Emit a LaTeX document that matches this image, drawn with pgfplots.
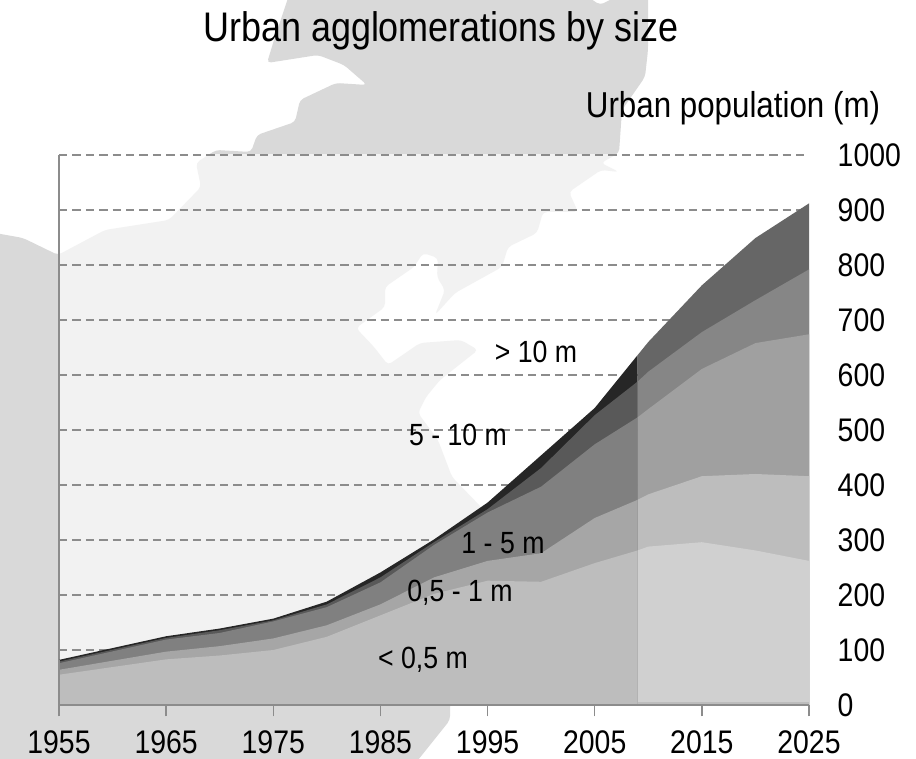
\documentclass[border=0pt]{standalone}
\usepackage{fontspec}
\setmainfont[FakeStretch=0.87]{Liberation Sans}
\usepackage{pgfplots}
\pgfplotsset{compat=1.18}
\definecolor{land}{HTML}{D9D9D9}
\definecolor{gridc}{HTML}{8C8C8C}
\definecolor{La}{HTML}{BDBDBD}\definecolor{Lb}{HTML}{A6A6A6}\definecolor{Lc}{HTML}{808080}\definecolor{Ld}{HTML}{595959}\definecolor{Le}{HTML}{262626}
\definecolor{Ra}{HTML}{D0D0D0}\definecolor{Rb}{HTML}{BDBDBD}\definecolor{Rc}{HTML}{A0A0A0}\definecolor{Rd}{HTML}{868686}\definecolor{Re}{HTML}{666666}
\newcommand{\tfont}{\fontsize{24.5}{24.5}\selectfont}
\begin{document}
\begin{tikzpicture}
\path[use as bounding box] (0,0) rectangle (687pt,569.25pt);
\begin{scope}[x=0.75pt,y=-0.75pt,yshift=569.25pt]
\fill[white] (0,0) rectangle (916,759);
% background map
\clip (0,0) rectangle (916,759);
\fill[land,rounded corners=3pt] (289,-5) -- (585,-5) -- (600,5) -- (620,-5) -- (648,-5) -- (648,50) -- (645,77) -- (622,110) -- (619,153) -- (601,163) -- (619,172) -- (601,170) -- (569,192) -- (578,212) -- (543,212) -- (537,233) -- (508,247) -- (502,267) -- (455,293) -- (435,315) -- (445,290) -- (437,277) -- (438,258) -- (423,253) -- (414,267) -- (385,287) -- (385,307) -- (356,328) -- (374,347) -- (388,365) -- (420,343) -- (461,340) -- (478,350) -- (440,380) -- (426,397) -- (418,413) -- (438,440) -- (452,477) -- (482,508) -- (482,600) -- (450,705) -- (450,720) -- (414,765) -- (-5,765) -- (-5,233) -- (23,238) -- (58,255) -- (105,230) -- (169,220) -- (201,187) -- (196,163) -- (216,150) -- (251,152) -- (257,135) -- (295,122) -- (300,100) -- (336,83) -- (367,85) -- (344,65) -- (318,55) -- (267,63) -- (274,40) -- cycle;
\fill[white,opacity=0.66] (59,154) rectangle (809,705);
\end{scope}
\begin{axis}[at={(44.25pt,40.5pt)},anchor=south west,scale only axis,
  width=562.5pt,height=412.5pt,
  xmin=1955,xmax=2025,ymin=0,ymax=1000,
  axis x line*=bottom,axis y line*=left,
  xtick={1955,1965,...,2025},ytick={0,100,...,1000},
  /pgf/number format/assume math mode=true,
  /pgf/number format/1000 sep={},
  tick label style={font=\tfont},
  xticklabel style={yshift=-7.5pt},
  yticklabel style={anchor=west,xshift=589pt},
  tick align=outside,
  x tick style={gridc,line width=1pt},
  y tick style={draw=none},
  major tick length=8.5pt,
  ymajorgrids,
  y grid style={gridc,dash pattern=on 6.3pt off 3.75pt,line width=1.3pt},
  axis line style={gridc,line width=1.3pt,-},
  clip=false]
% left of 2009
\addplot[fill=Le,draw=none] coordinates {(1955,82)(1965,125)(1970,139)(1975,157)(1980,188)(1985,241)(1990,301)(1995,368)(2000,454)(2005,540)(2009,636)} \closedcycle;
\addplot[fill=Ld,draw=none] coordinates {(1955,79)(1965,122)(1970,136)(1975,154)(1980,183)(1985,232)(1990,296)(1995,356)(2000,431)(2005,527)(2009,588)} \closedcycle;
\addplot[fill=Lc,draw=none] coordinates {(1955,76)(1965,119)(1970,131)(1975,152)(1980,178)(1985,223)(1990,291)(1995,350)(2000,397)(2005,474)(2009,523)} \closedcycle;
\addplot[fill=Lb,draw=none] coordinates {(1955,64)(1965,97)(1970,107)(1975,121)(1980,145)(1985,183)(1990,232)(1995,262)(2000,276)(2005,340)(2009,373)} \closedcycle;
\addplot[fill=La,draw=none] coordinates {(1955,55)(1965,83)(1970,90)(1975,100)(1980,124)(1985,163)(1990,202)(1995,226)(2000,224)(2005,258)(2009,281)} \closedcycle;
% right of 2009
\addplot[fill=Re,draw=none] coordinates {(2009,636)(2010,660)(2015,763)(2020,849)(2025,912)} \closedcycle;
\addplot[fill=Rd,draw=none] coordinates {(2009,588)(2010,606)(2015,678)(2020,736)(2025,792)} \closedcycle;
\addplot[fill=Rc,draw=none] coordinates {(2009,523)(2010,538)(2015,611)(2020,658)(2025,674)} \closedcycle;
\addplot[fill=Rb,draw=none] coordinates {(2009,373)(2010,383)(2015,416)(2020,420)(2025,416)} \closedcycle;
\addplot[fill=Ra,draw=none] coordinates {(2009,281)(2010,288)(2015,296)(2020,281)(2025,262)} \closedcycle;
\addplot[fill=La,draw=none] coordinates {(2009,5)(2025,5)} \closedcycle;
\addplot[gridc,line width=1.3pt] coordinates {(1955,0)(2025,0)};
\addplot[gridc,line width=1.1pt] coordinates {(1955,0)(1955,82)};
\end{axis}
\begin{scope}[x=0.75pt,y=-0.75pt,yshift=569.25pt]
\node[font=\fontsize{31}{31}\selectfont] at (441,31) {Urban agglomerations by size};
\node[font=\fontsize{27}{27}\selectfont] at (733,108) {Urban population (m)};
\begin{scope}[every node/.style={font=\fontsize{23}{23}\selectfont}]
\node at (536,352) {> 10 m};
\node at (458,435) {5 - 10 m};
\node at (503,543) {1 - 5 m};
\node at (460,593) {0,5 - 1 m};
\node at (423,660) {< 0,5 m};
\end{scope}
\end{scope}
\end{tikzpicture}
\end{document}
